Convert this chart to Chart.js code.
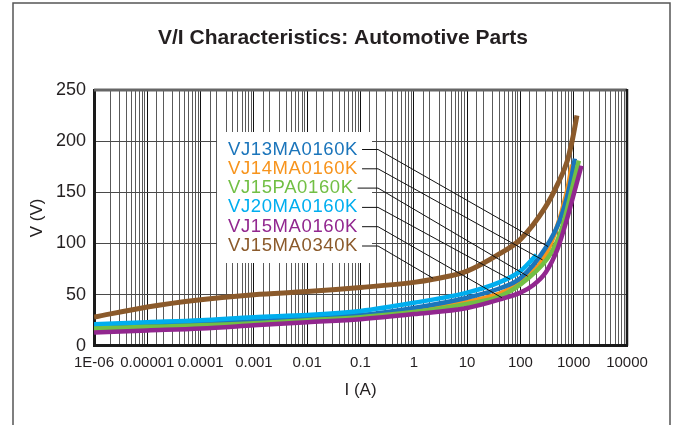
<!DOCTYPE html>
<html>
<head>
<meta charset="utf-8">
<script src="https://cdn.jsdelivr.net/npm/chart.js@4.4.1/dist/chart.umd.min.js"></script>
<style>
  html, body { margin: 0; padding: 0; background: #fff; }
  canvas { display: block; }
</style>
</head>
<body>
<canvas id="viChart" width="673" height="425"></canvas>
<script>
// ── V/I curves (I in A, V in V) ──
const chartTitle = 'V/I Characteristics: Automotive Parts';
const seriesNames = ['VJ13MA0160K', 'VJ14MA0160K', 'VJ15PA0160K', 'VJ20MA0160K', 'VJ15MA0160K', 'VJ15MA0340K'];
const seriesColors = ['#1b75bb', '#f7941d', '#72bf44', '#00aeef', '#92278f', '#8b5a2b'];

const vj13I = [1e-6, 1e-5, 1e-4, 1e-3, 1e-2, 0.1, 1, 10, 40, 100, 300, 550, 830, 1050];
const vj13V = [18, 20, 22, 24, 27, 30, 37, 47, 56, 66, 96, 123, 155, 183];

const vj14I = [1e-6, 1e-5, 1e-4, 1e-3, 1e-2, 0.1, 1, 10, 40, 100, 260, 430, 740, 930];
const vj14V = [16, 18, 20, 22, 25, 28, 34, 43, 51, 62, 84, 108, 150, 177];

const vj15pI = [1e-6, 1e-5, 1e-4, 1e-3, 1e-2, 0.1, 1, 10, 40, 140, 370, 600, 850, 1050, 1250];
const vj15pV = [17, 18.5, 20, 22, 25, 28, 33, 41, 48, 66, 90, 115, 145, 165, 181];

const vj20I = [1e-6, 1e-5, 1e-4, 1e-3, 1e-2, 0.1, 1, 10, 40, 100, 200];
const vj20V = [21, 23, 25, 28, 30, 34, 42, 52, 62, 73, 89];

const vj15mI = [1e-6, 1e-5, 1e-4, 1e-3, 1e-2, 0.1, 1, 10, 45, 100, 170, 300, 500, 740, 1000, 1400];
const vj15mV = [13, 15, 17, 20, 23, 26, 31, 37, 46, 52, 59, 72, 95, 123, 148, 176];

const vj340I = [1e-6, 1e-5, 1e-4, 1e-3, 1e-2, 0.1, 1, 2.3, 10, 41, 100, 290, 500, 750, 950, 1150];
const vj340V = [28, 38, 45, 50, 53, 57, 62, 65, 73, 90, 104, 135, 158, 180, 202, 225];

const seriesI = [vj13I, vj14I, vj15pI, vj20I, vj15mI, vj340I];
const seriesV = [vj13V, vj14V, vj15pV, vj20V, vj15mV, vj340V];
const drawOrder = [4, 5, 2, 3, 1, 6];

// where each label's leader line lands on its curve
const leaderI = [330, 260, 137, 64, 45, 2.3];
const leaderV = [97, 84, 68, 65, 47, 66];

const xTickLabels = ['1E-06', '0.00001', '0.0001', '0.001', '0.01', '0.1', '1', '10', '100', '1000', '10000'];
const yMin = 0, yMax = 250, yStep = 50;

const FONT = '"Liberation Sans", Arial, Helvetica, sans-serif';
const TEXT = '#231f20';

function isDecade(v) {
  const e = Math.log10(v);
  return Math.abs(e - Math.round(e)) < 1e-6;
}

// ── Page frame + title ──
const framePlugin = {
  id: 'frame',
  beforeDraw(chart) {
    const ctx = chart.ctx;
    ctx.save();
    ctx.fillStyle = '#fff';
    ctx.fillRect(0, 0, chart.width, chart.height);
    ctx.strokeStyle = '#555';
    ctx.lineWidth = 1.5;
    ctx.beginPath();
    ctx.moveTo(13, chart.height);
    ctx.lineTo(13, 3);
    ctx.lineTo(670, 3);
    ctx.lineTo(670, chart.height);
    ctx.stroke();

    ctx.fillStyle = TEXT;
    ctx.font = 'bold 21px ' + FONT;
    ctx.textAlign = 'center';
    ctx.textBaseline = 'middle';
    ctx.fillText(chartTitle, 343, 38);
    ctx.restore();
  }
};

// ── Label box with leader lines ──
const labelPlugin = {
  id: 'labels',
  beforeDatasetsDraw(chart) {
    const { ctx, chartArea: a } = chart;
    ctx.save();
    ctx.fillStyle = '#fff';
    ctx.fillRect(a.left + 123, a.top + 42, 155, 131);
    ctx.restore();
  },
  afterDatasetsDraw(chart) {
    const { ctx, chartArea: a, scales } = chart;
    const textX = a.left + 134;
    const firstY = a.top + 59.5;
    const step = 19.3;
    const kneeX = a.left + 284;

    ctx.save();
    ctx.font = '18.5px ' + FONT;
    ctx.letterSpacing = '0.6px';
    ctx.textAlign = 'left';
    ctx.textBaseline = 'middle';
    seriesNames.forEach((name, i) => {
      const y = firstY + i * step;
      ctx.fillStyle = seriesColors[i];
      ctx.fillText(name, textX, y);
      const w = ctx.measureText(name).width;
      ctx.strokeStyle = '#111';
      ctx.lineWidth = 1;
      ctx.beginPath();
      ctx.moveTo(textX + w + 4, y);
      ctx.lineTo(kneeX, y);
      ctx.lineTo(scales.x.getPixelForValue(leaderI[i]), scales.y.getPixelForValue(leaderV[i]));
      ctx.stroke();
    });
    ctx.letterSpacing = '0px';

    // top and right edges of the plot box
    ctx.strokeStyle = '#666';
    ctx.lineWidth = 3;
    ctx.beginPath();
    ctx.moveTo(a.left, a.top);
    ctx.lineTo(a.right, a.top);
    ctx.stroke();
    ctx.strokeStyle = '#1a1a1a';
    ctx.lineWidth = 2.5;
    ctx.beginPath();
    ctx.moveTo(a.right, a.top - 1);
    ctx.lineTo(a.right, a.bottom);
    ctx.stroke();
    ctx.restore();
  }
};

const datasets = seriesNames.map((name, i) => ({
  label: name,
  data: seriesI[i].map((x, j) => ({ x, y: seriesV[i][j] })),
  borderColor: seriesColors[i],
  backgroundColor: seriesColors[i],
  borderWidth: i === 5 ? 5 : 4.5,
  pointRadius: 0,
  cubicInterpolationMode: 'monotone',
  fill: false,
  order: drawOrder[i]
}));

new Chart(document.getElementById('viChart'), {
  type: 'line',
  data: { datasets },
  plugins: [framePlugin, labelPlugin],
  options: {
    responsive: false,
    animation: false,
    devicePixelRatio: 1,
    layout: { padding: { left: 20, right: 46, top: 90, bottom: 20.8 } },
    plugins: {
      legend: { display: false },
      tooltip: { enabled: false },
      title: { display: false }
    },
    scales: {
      x: {
        type: 'logarithmic',
        min: 1e-6,
        max: 1e4,
        border: { display: true, color: '#1a1a1a', width: 3 },
        grid: {
          drawTicks: false,
          lineWidth: 1,
          color: ctx => (ctx.tick && isDecade(ctx.tick.value)) ? '#111' : '#5a5a5a'
        },
        ticks: {
          autoSkip: false,
          maxRotation: 0,
          minRotation: 0,
          padding: 8,
          color: TEXT,
          font: { family: FONT, size: 15 },
          callback: v => isDecade(v) ? xTickLabels[Math.round(Math.log10(v)) + 6] : ''
        },
        title: {
          display: true,
          text: 'I (A)',
          color: TEXT,
          font: { family: FONT, size: 17 },
          padding: { top: 0, bottom: 4 }
        }
      },
      y: {
        min: yMin,
        max: yMax,
        border: { display: true, color: '#1a1a1a', width: 3 },
        grid: { drawTicks: false, lineWidth: 1, color: '#4a4a4a' },
        ticks: {
          stepSize: yStep,
          padding: 8,
          color: TEXT,
          font: { family: FONT, size: 18 }
        },
        title: {
          display: true,
          text: 'V (V)',
          color: TEXT,
          font: { family: FONT, size: 17 },
          padding: { top: 7.3, bottom: 0.3 }
        }
      }
    }
  }
});
</script>
</body>
</html>
